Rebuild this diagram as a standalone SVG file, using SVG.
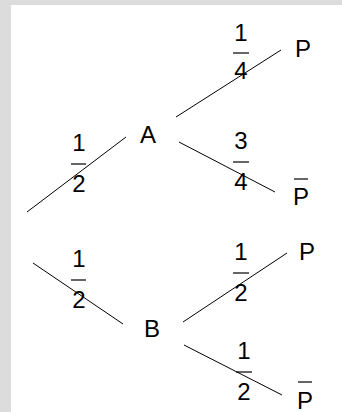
<svg xmlns="http://www.w3.org/2000/svg" width="342" height="412" viewBox="0 0 342 412">
<style>
text{font-family:"Liberation Sans",Arial,sans-serif;font-size:24px;fill:#000}
.n{text-anchor:middle}
.c line{stroke:#000;stroke-width:1}
.bar{stroke:#000;stroke-width:1.2}
</style>
<rect x="0" y="0" width="342" height="412" fill="#dcdcdc"/>
<rect x="11" y="5" width="331" height="407" fill="#fff"/>
<g id="connectors" class="c">
<line x1="27" y1="212" x2="126" y2="137"/>
<line x1="176" y1="117" x2="281" y2="50"/>
<line x1="179" y1="142" x2="275" y2="192"/>
<line x1="33" y1="263" x2="123" y2="324"/>
<line x1="183" y1="322" x2="287" y2="253"/>
<line x1="184" y1="345" x2="282" y2="395"/>
</g>
<g id="labels">
<g id="f-root-A"><text class="n" x="79" y="151">1</text><line class="bar" x1="71" y1="164" x2="86" y2="164"/><text class="n" x="79" y="192">2</text></g>
<g id="f-A-P"><text class="n" x="241" y="41">1</text><line class="bar" x1="233" y1="53" x2="249" y2="53"/><text class="n" x="241" y="79">4</text></g>
<g id="f-A-Pbar"><text class="n" x="241" y="149">3</text><line class="bar" x1="233" y1="162" x2="249" y2="162"/><text class="n" x="241" y="190">4</text></g>
<g id="f-root-B"><text class="n" x="79" y="267">1</text><line class="bar" x1="71" y1="280" x2="86" y2="280"/><text class="n" x="79" y="308">2</text></g>
<g id="f-B-P"><text class="n" x="241" y="260">1</text><line class="bar" x1="233" y1="273" x2="249" y2="273"/><text class="n" x="241" y="301">2</text></g>
<g id="f-B-Pbar"><text class="n" x="244" y="359">1</text><line class="bar" x1="236" y1="372" x2="252" y2="372"/><text class="n" x="244" y="400">2</text></g>
</g>
<g id="A"><text class="n" x="148" y="143">A</text></g>
<g id="B"><text class="n" x="152" y="337">B</text></g>
<g id="P1"><text class="n" x="303" y="57">P</text></g>
<g id="Pbar1"><line class="bar" x1="294" y1="179" x2="308" y2="179"/><text class="n" x="301" y="205">P</text></g>
<g id="P2"><text class="n" x="307" y="260">P</text></g>
<g id="Pbar2"><line class="bar" x1="298" y1="382" x2="312" y2="382"/><text class="n" x="305" y="409">P</text></g>
</svg>
